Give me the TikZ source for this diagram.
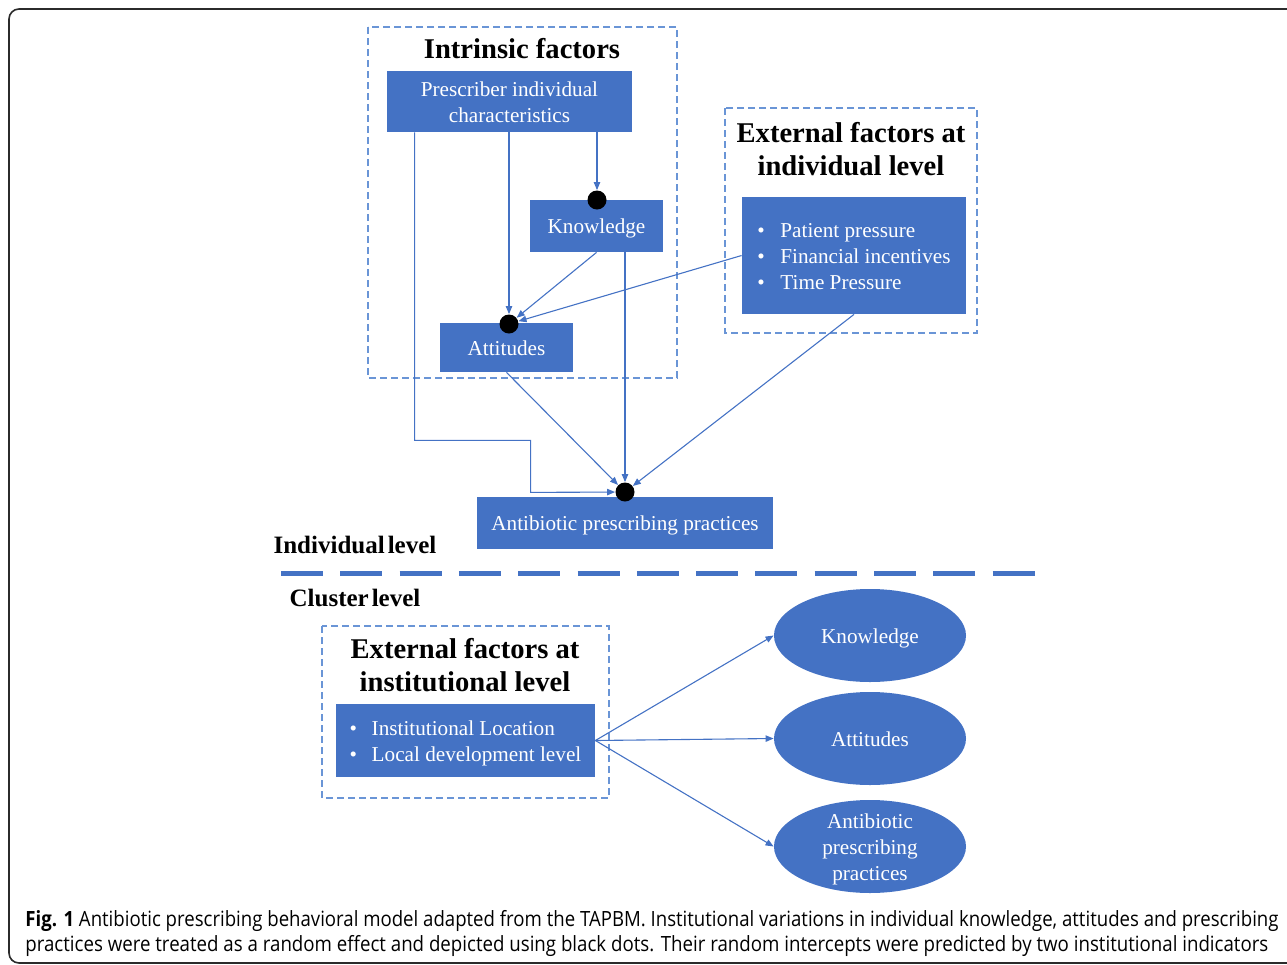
\documentclass[tikz,border=0pt]{standalone}
\usepackage{fontspec}
\setmainfont{Liberation Serif}
\newfontfamily\capfont{Open Sans}
\usepackage{graphicx}
\usetikzlibrary{arrows.meta,calc,shapes.geometric}
\definecolor{ob}{HTML}{4472C4}
\definecolor{dashb}{HTML}{6A95D6}
\definecolor{framec}{HTML}{2B2B2B}
\newcommand{\lowc}[1]{\raisebox{-1.3pt}[\height][\depth]{\begin{tabular}{@{}c@{}}#1\end{tabular}}}
\newcommand{\lowl}[1]{\raisebox{-1.3pt}[\height][\depth]{\begin{tabular}{@{}l@{}}#1\end{tabular}}}
\begin{document}
\begin{tikzpicture}[x=0.5pt,y=-0.5pt,
 blk/.style={fill=ob, text=white, font=\fontsize{10.6pt}{13pt}\selectfont, inner sep=0pt},
 grp/.style={draw=dashb, line width=0.65pt, dash pattern=on 3.5pt off 2pt},
 ttl/.style={font=\fontsize{14.3pt}{16.5pt}\selectfont\bfseries, align=center, inner sep=0pt},
 conn/.style={draw=ob, line width=0.55pt, -{Triangle[length=4pt,width=3.2pt]}},
 rdot/.style={circle, fill=black, minimum size=9.5pt, inner sep=0pt},
 lvl/.style={font=\fontsize{12.5pt}{14pt}\selectfont\bfseries, inner sep=0pt},
 oval/.style={ellipse, fill=ob, minimum width=96pt, minimum height=46.5pt, inner sep=0pt},
 ovaltxt/.style={text=white, font=\fontsize{10.6pt}{13pt}\selectfont, inner sep=0pt},
 capt/.style={anchor=base west, inner sep=0pt, font=\capfont\fontsize{10.5pt}{12pt}\selectfont}
]
\useasboundingbox (0,0) rectangle (1287,965);
% outer frame
\draw[framec, line width=0.8pt, rounded corners=5pt] (9,9) rectangle (1320,963);

% dashed group boxes
\draw[grp] (368,27) rectangle (677,378);
\draw[grp] (725,108) rectangle (977,333);
\draw[grp] (322,626) rectangle (609,798);

% titles
\node[ttl] (tIn) at (522,49) {Intrinsic factors};
\node[ttl] (tEx) at (851,149) {External factors at\\individual level};
\node[ttl] (tInst) at (465,665) {External factors at\\institutional level};

% blue boxes
\node[blk, minimum width=122.5pt, minimum height=30.5pt] (presc) at (509.5,101.5) {\lowc{Prescriber individual\\characteristics}};
\node[blk, minimum width=66.5pt, minimum height=26pt] (know) at (596.5,226) {\lowc{Knowledge}};
\node[blk, minimum width=66.5pt, minimum height=24.5pt] (att) at (506.5,347.5) {\lowc{Attitudes}};
\node[blk, minimum width=112pt, minimum height=58.5pt] (ext) at (854,255.5)
  {\lowl{\makebox[11.5pt][l]{\textbullet}Patient pressure\\\makebox[11.5pt][l]{\textbullet}Financial incentives\\\makebox[11.5pt][l]{\textbullet}Time Pressure}};
\node[blk, minimum width=148pt, minimum height=26pt] (prac) at (625,523) {\lowc{Antibiotic prescribing practices}};
\node[blk, minimum width=129.5pt, minimum height=36.5pt] (inst) at (465.5,740.5)
  {\lowl{\makebox[11pt][l]{\textbullet}Institutional Location\\\makebox[11pt][l]{\textbullet}Local development level}};

% random-effect dots
\node[rdot] (dotK) at (597,200) {};
\node[rdot] (dotA) at (509,324) {};
\node[rdot] (dotP) at (625,492) {};

% level labels and divider
\node[lvl] (indl) at (355,545) {Individual\hspace{1.5pt}level};
\node[lvl] (clul) at (355,598) {Cluster\hspace{1.5pt}level};
\coordinate (dL) at (281,573);
\coordinate (dR) at (1035,573);
\draw[ob, line width=2.5pt, dash pattern=on 21pt off 8.65pt] (dL) -- (dR);

% ellipses
\node[oval] (ellK) at (870,635.5) {};
\node[ovaltxt] at (ellK) {\lowc{Knowledge}};
\node[oval] (ellA) at (870,738.5) {};
\node[ovaltxt] at (ellA) {\lowc{Attitudes}};
\node[oval] (ellP) at (870,846.5) {};
\node[ovaltxt] at (ellP) {\lowc{Antibiotic\\prescribing\\practices}};

% connectors
\draw[conn] (presc.south -| dotK) -- (dotK);
\draw[conn] (presc.south -| dotA) -- (dotA);
\draw[conn] ([xshift=14pt]presc.south west) -- ++(0,308) -- ++(116,0) -- ++(0,52) -- (dotP);
\draw[conn] (know.south) -- (dotA);
\draw[conn] (know.south -| dotP) -- (dotP);
\draw[conn] (ext.west) -- (dotA);
\draw[conn] (att.south) -- (dotP);
\draw[conn] (ext.south) -- (dotP);
\draw[conn] (inst.east) -- (ellK.west);
\draw[conn] (inst.east) -- (ellA.west);
\draw[conn] (inst.east) -- (ellP.west);

% caption
\node[capt] (cap1) at (25,926)
  {\resizebox{626.5pt}{\height}{\textbf{Fig. 1} Antibiotic prescribing behavioral model adapted from the TAPBM. Institutional variations in individual knowledge, attitudes and prescribing}};
\node[capt] (cap2) at (25,951)
  {\resizebox{621.5pt}{\height}{practices were treated as a random effect and depicted using black dots. Their random intercepts were predicted by two institutional indicators}};
\end{tikzpicture}
\end{document}
